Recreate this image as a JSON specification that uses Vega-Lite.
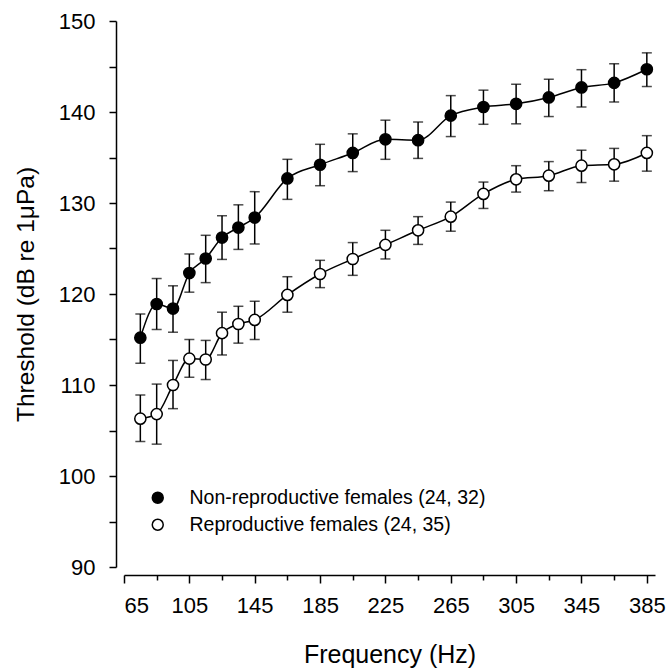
{
  "$schema": "https://vega.github.io/schema/vega-lite/v6.json",
  "width": 531,
  "height": 546,
  "autosize": {"type": "none"},
  "padding": {"left": 124, "top": 21, "right": 15, "bottom": 103},
  "background": "white",
  "config": {
    "view": {"stroke": null},
    "font": "Liberation Sans",
    "axis": {"domainColor": "black", "tickColor": "black", "labelColor": "black", "titleColor": "black", "domainWidth": 1.5, "tickWidth": 1.5, "grid": false, "labelFont": "Liberation Sans", "titleFont": "Liberation Sans", "titleFontWeight": "normal"}
  },
  "data": {
    "values": [
      {"group": "Non-reproductive females (24, 32)", "freq": 75, "mean": 115.2, "lo": 112.4, "hi": 117.8},
      {"group": "Non-reproductive females (24, 32)", "freq": 85, "mean": 118.9, "lo": 116.1, "hi": 121.7},
      {"group": "Non-reproductive females (24, 32)", "freq": 95, "mean": 118.4, "lo": 115.8, "hi": 120.9},
      {"group": "Non-reproductive females (24, 32)", "freq": 105, "mean": 122.3, "lo": 120.2, "hi": 124.4},
      {"group": "Non-reproductive females (24, 32)", "freq": 115, "mean": 123.9, "lo": 121.25, "hi": 126.45},
      {"group": "Non-reproductive females (24, 32)", "freq": 125, "mean": 126.2, "lo": 123.8, "hi": 128.6},
      {"group": "Non-reproductive females (24, 32)", "freq": 135, "mean": 127.3, "lo": 124.9, "hi": 129.8},
      {"group": "Non-reproductive females (24, 32)", "freq": 145, "mean": 128.4, "lo": 125.5, "hi": 131.25},
      {"group": "Non-reproductive females (24, 32)", "freq": 165, "mean": 132.7, "lo": 130.4, "hi": 134.8},
      {"group": "Non-reproductive females (24, 32)", "freq": 185, "mean": 134.2, "lo": 131.9, "hi": 136.45},
      {"group": "Non-reproductive females (24, 32)", "freq": 205, "mean": 135.5, "lo": 133.45, "hi": 137.6},
      {"group": "Non-reproductive females (24, 32)", "freq": 225, "mean": 137.0, "lo": 134.8, "hi": 139.1},
      {"group": "Non-reproductive females (24, 32)", "freq": 245, "mean": 136.9, "lo": 134.9, "hi": 138.9},
      {"group": "Non-reproductive females (24, 32)", "freq": 265, "mean": 139.6, "lo": 137.3, "hi": 141.8},
      {"group": "Non-reproductive females (24, 32)", "freq": 285, "mean": 140.55, "lo": 138.65, "hi": 142.4},
      {"group": "Non-reproductive females (24, 32)", "freq": 305, "mean": 140.9, "lo": 138.7, "hi": 143.05},
      {"group": "Non-reproductive females (24, 32)", "freq": 325, "mean": 141.6, "lo": 139.5, "hi": 143.6},
      {"group": "Non-reproductive females (24, 32)", "freq": 345, "mean": 142.7, "lo": 140.55, "hi": 144.65},
      {"group": "Non-reproductive females (24, 32)", "freq": 365, "mean": 143.2, "lo": 141.1, "hi": 145.3},
      {"group": "Non-reproductive females (24, 32)", "freq": 385, "mean": 144.7, "lo": 142.8, "hi": 146.5},
      {"group": "Reproductive females (24, 35)", "freq": 75, "mean": 106.3, "lo": 103.8, "hi": 108.9},
      {"group": "Reproductive females (24, 35)", "freq": 85, "mean": 106.8, "lo": 103.5, "hi": 110.1},
      {"group": "Reproductive females (24, 35)", "freq": 95, "mean": 110.0, "lo": 107.4, "hi": 112.7},
      {"group": "Reproductive females (24, 35)", "freq": 105, "mean": 112.9, "lo": 110.85, "hi": 115.0},
      {"group": "Reproductive females (24, 35)", "freq": 115, "mean": 112.8, "lo": 110.6, "hi": 114.9},
      {"group": "Reproductive females (24, 35)", "freq": 125, "mean": 115.7, "lo": 113.3, "hi": 118.0},
      {"group": "Reproductive females (24, 35)", "freq": 135, "mean": 116.7, "lo": 114.6, "hi": 118.65},
      {"group": "Reproductive females (24, 35)", "freq": 145, "mean": 117.15, "lo": 115.0, "hi": 119.2},
      {"group": "Reproductive females (24, 35)", "freq": 165, "mean": 119.9, "lo": 118.0, "hi": 121.9},
      {"group": "Reproductive females (24, 35)", "freq": 185, "mean": 122.2, "lo": 120.7, "hi": 123.7},
      {"group": "Reproductive females (24, 35)", "freq": 205, "mean": 123.85, "lo": 122.05, "hi": 125.65},
      {"group": "Reproductive females (24, 35)", "freq": 225, "mean": 125.4, "lo": 123.85, "hi": 127.0},
      {"group": "Reproductive females (24, 35)", "freq": 245, "mean": 127.0, "lo": 125.45, "hi": 128.5},
      {"group": "Reproductive females (24, 35)", "freq": 265, "mean": 128.5, "lo": 126.9, "hi": 130.1},
      {"group": "Reproductive females (24, 35)", "freq": 285, "mean": 131.0, "lo": 129.4, "hi": 132.3},
      {"group": "Reproductive females (24, 35)", "freq": 305, "mean": 132.6, "lo": 131.2, "hi": 134.1},
      {"group": "Reproductive females (24, 35)", "freq": 325, "mean": 133.0, "lo": 131.35, "hi": 134.55},
      {"group": "Reproductive females (24, 35)", "freq": 345, "mean": 134.1, "lo": 132.25, "hi": 135.8},
      {"group": "Reproductive females (24, 35)", "freq": 365, "mean": 134.25, "lo": 132.4, "hi": 136.0},
      {"group": "Reproductive females (24, 35)", "freq": 385, "mean": 135.5, "lo": 133.5, "hi": 137.4}
    ]
  },
  "encoding": {
    "x": {
      "field": "freq", "type": "quantitative",
      "scale": {"domain": [65, 390], "nice": false, "zero": false},
      "axis": {
        "title": "Frequency (Hz)", "titleFontSize": 25, "titlePadding": 26,
        "labelFontSize": 22, "labelPadding": 12, "offset": 8,
        "values": [65, 85, 105, 125, 145, 165, 185, 205, 225, 245, 265, 285, 305, 325, 345, 365, 385],
        "labelExpr": "(datum.value - 65) % 40 == 0 ? datum.label : ''",
        "tickSize": {"condition": {"test": "(datum.value - 65) % 40 == 0", "value": 8}, "value": 5}
      }
    },
    "y": {
      "field": "mean", "type": "quantitative",
      "scale": {"domain": [90, 150], "nice": false, "zero": false},
      "axis": {
        "title": "Threshold (dB re 1μPa)", "titleFontSize": 24.5, "titlePadding": 20,
        "labelFontSize": 22, "labelPadding": 14, "offset": 8, "tickSize": 7,
        "values": [90, 95, 100, 105, 110, 115, 120, 125, 130, 135, 140, 145, 150],
        "labelExpr": "datum.value % 10 == 0 ? datum.label : ''"
      }
    }
  },
  "layer": [
    {
      "mark": {"type": "rule", "color": "black", "strokeWidth": 1.5},
      "encoding": {"y": {"field": "lo", "type": "quantitative"}, "y2": {"field": "hi"}, "detail": {"field": "group"}}
    },
    {
      "mark": {"type": "tick", "orient": "horizontal", "color": "black", "size": 10, "thickness": 1.5},
      "encoding": {"y": {"field": "lo", "type": "quantitative"}, "detail": {"field": "group"}}
    },
    {
      "mark": {"type": "tick", "orient": "horizontal", "color": "black", "size": 10, "thickness": 1.5},
      "encoding": {"y": {"field": "hi", "type": "quantitative"}, "detail": {"field": "group"}}
    },
    {
      "mark": {"type": "line", "color": "black", "strokeWidth": 1.5, "interpolate": "monotone"},
      "encoding": {"detail": {"field": "group"}}
    },
    {
      "mark": {"type": "point", "filled": true, "shape": "circle", "size": 125, "stroke": "black", "strokeWidth": 1.5, "opacity": 1},
      "encoding": {
        "fill": {
          "field": "group", "type": "nominal",
          "scale": {"domain": ["Non-reproductive females (24, 32)", "Reproductive females (24, 35)"], "range": ["black", "white"]},
          "legend": {
            "title": null, "orient": "none", "legendX": 24, "legendY": 467,
            "labelFontSize": 19.5, "labelColor": "black", "labelFont": "Liberation Sans", "labelOffset": 22, "labelLimit": 500,
            "symbolType": "circle", "symbolSize": 120, "symbolStrokeColor": "black", "symbolStrokeWidth": 1.5,
            "rowPadding": 6
          }
        }
      }
    }
  ]
}
